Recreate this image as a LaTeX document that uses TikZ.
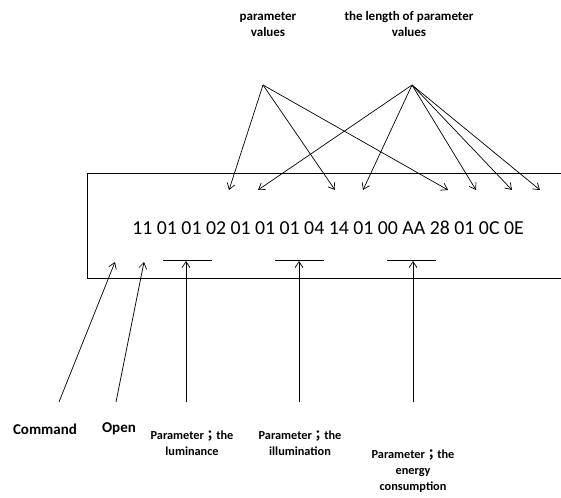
\documentclass[tikz,border=0pt]{standalone}
\usepackage{fontspec}
\setmainfont{Carlito}
\newfontfamily\cjkfont{Noto Sans CJK TC}
\usetikzlibrary{arrows.meta}
\newcommand{\fwsemi}{{\cjkfont ；}}
\begin{document}
\begin{tikzpicture}[x=1pt,y=-1pt,
  conn/.style={-{Straight Barb[length=6pt,width=8pt]}, line width=0.7pt},
  frame/.style={line width=0.9pt},
  bar/.style={line width=0.9pt},
  toplbl/.style={font=\bfseries\fontsize{13}{16}\selectfont, align=center, inner sep=0pt},
  keylbl/.style={font=\bfseries\fontsize{15}{18}\selectfont, inner sep=0pt},
  parlbl/.style={font=\bfseries\fontsize{12.3}{16}\selectfont, align=center, inner sep=0pt, anchor=north},
  hex/.style={font=\fontsize{19.8}{24}\selectfont, inner sep=0pt}]
\useasboundingbox (0,0) rectangle (561,497);

% frame open on the right side
\draw[frame] (561,173) -- (87,173) -- (87,278) -- (561,278);

% byte sequence
\node[hex] (bytes) at (328,228) {11 01 01 02 01 01 01 04 14 01 00 AA 28 01 0C 0E};

% top labels and their fan-out points
\node[toplbl] (pval) at (268,24) {parameter\\values};
\node[toplbl] (plen) at (409,24) {the length of parameter\\values};
\coordinate (fanA) at (263,85);
\coordinate (fanB) at (412,85);

% targets inside the frame
\coordinate (a1) at (229,190);
\coordinate (b1) at (258,190);
\coordinate (a2) at (335,190);
\coordinate (b2) at (363,190);
\coordinate (a3) at (448,190);
\coordinate (b3) at (476,190);
\coordinate (b4) at (512,190);
\coordinate (b5) at (540,190);

\foreach \t in {a1,a2,a3} \draw[conn] (fanA) -- (\t);
\foreach \t in {b1,b2,b3,b4,b5} \draw[conn] (fanB) -- (\t);

% parameter brackets
\draw[bar] (163,260) coordinate (lumL) -- (212,260) coordinate (lumR);
\draw[bar] (275,260) coordinate (illL) -- (324,260) coordinate (illR);
\draw[bar] (387,260) coordinate (engL) -- (436,260) coordinate (engR);

% bottom pointers
\coordinate (cmdS) at (59,402);
\coordinate (cmdT) at (115,262);
\coordinate (opnS) at (116,402);
\coordinate (opnT) at (144,262);
\coordinate (lumS) at (186,402);
\coordinate (lumT) at (186,261);
\coordinate (illS) at (299,402);
\coordinate (illT) at (299,261);
\coordinate (engS) at (413,402);
\coordinate (engT) at (413,261);

\draw[conn] (cmdS) -- (cmdT);
\draw[conn] (opnS) -- (opnT);
\draw[conn] (lumS) -- (lumT);
\draw[conn] (illS) -- (illT);
\draw[conn] (engS) -- (engT);

% bottom labels
\node[keylbl] (cmd) at (45,429) {Command};
\node[keylbl] (opn) at (119,429) {Open};
\node[parlbl] (lum) at (192,431) {Parameter\fwsemi the\\luminance};
\node[parlbl] (ill) at (300,431) {Parameter\fwsemi the\\illumination};
\node[parlbl] (eng) at (413,450) {Parameter\fwsemi the\\energy\\consumption};
\end{tikzpicture}
\end{document}
